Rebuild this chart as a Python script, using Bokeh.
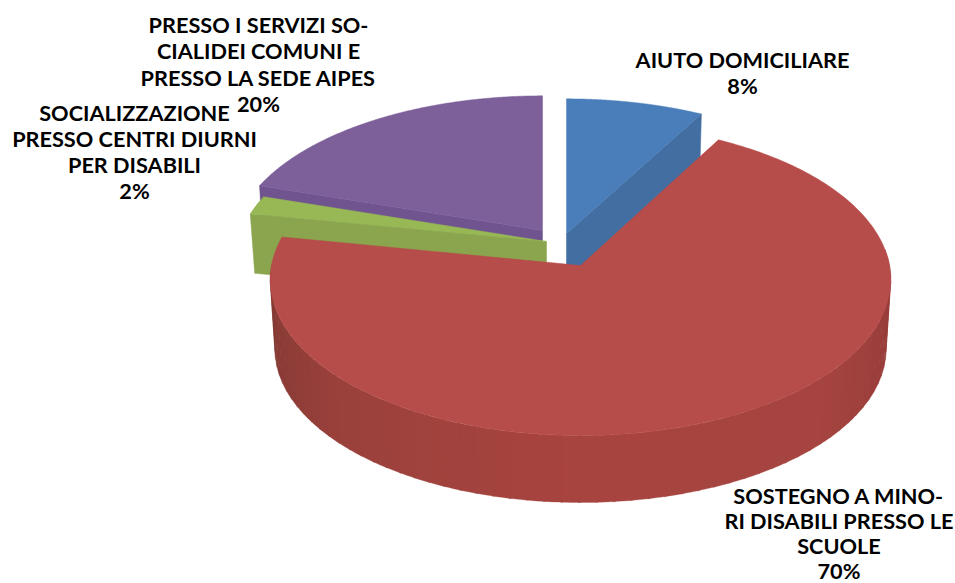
import numpy as np
from bokeh.plotting import figure
from bokeh.models import ColumnDataSource
from bokeh.core.properties import value
from bokeh.embed import file_html
from bokeh.resources import INLINE

# data
categories = ["AIUTO DOMICILIARE", "SOSTEGNO A MINORI DISABILI PRESSO LE SCUOLE",
              "SOCIALIZZAZIONE PRESSO CENTRI DIURNI PER DISABILI",
              "PRESSO I SERVIZI SOCIALIDEI COMUNI E PRESSO LA SEDE AIPES"]
shares = [8, 70, 2, 20]
label_lines = [["AIUTO DOMICILIARE", "8%"],
               ["SOSTEGNO A MINO-", "RI DISABILI PRESSO LE", "SCUOLE", "70%"],
               ["SOCIALIZZAZIONE", "PRESSO CENTRI DIURNI", "PER DISABILI", "2%"],
               ["PRESSO I SERVIZI SO-", "CIALIDEI COMUNI E", "PRESSO LA SEDE AIPES", "20%"]]

# layout and style
top_colors = ["#4A7EBB", "#B64D4A", "#98B855", "#7D5F9A"]
face_colors = ["#426EA2", None, "#8AA54E", "#6F5490"]
apex = [(566, 233), (580, 265), (546, 241), (542, 230)]
label_pos = [(742, 59, 26), (838.5, 495.5, 25), (134, 112, 26), (258, 24, 26.6)]
RX = [308.0, 309.0, 308.0, 308.0]
RY = [150.0, 154.7, 150.0, 150.0]
PERSP = [0.114, 0.09, 0.114, 0.114]
DEPTH = [60.0, 61.0, 50.0, 60.0]
BOTTOM_SCALE = 0.985
WALL_T = [95, 130, 180, 225, 262]
WALL_RGB = [(150, 60, 58), (165, 68, 64), (168, 68, 64), (155, 65, 60), (132, 58, 52)]

p = figure(width=955, height=583, x_range=(0, 955), y_range=(583, 0),
           output_backend="svg", toolbar_location=None, min_border=0,
           outline_line_color=None, background_fill_color="white",
           border_fill_color="white")
p.axis.visible = False
p.grid.visible = False


def drop(i):
    return (DEPTH[i] + (1 - BOTTOM_SCALE) * RY[i]) / (1 - PERSP[i])


def rim(i, t_deg, bottom=False):
    a = apex[i]
    t = np.radians(t_deg)
    s, c = np.sin(t), -np.cos(t)
    den = 1 - PERSP[i] * c
    k = BOTTOM_SCALE if bottom else 1.0
    x = a[0] + k * RX[i] * s / den
    y = a[1] + k * RY[i] * c / den
    if bottom:
        y = y + drop(i)
    return x, y


edges = 3.6 * np.concatenate([[0], np.cumsum(shares)])


def draw_face(i, t):
    a = apex[i]
    x0, y0 = rim(i, t)
    x1, y1 = rim(i, t, True)
    p.patch([a[0], x0, x1, a[0]], [a[1], y0, y1, a[1] + drop(i)],
            fill_color=face_colors[i], line_color=face_colors[i], line_width=0.5)


def draw_top(i):
    a = apex[i]
    ts = np.linspace(edges[i], edges[i + 1], 240)
    x, y = rim(i, ts)
    p.patch(np.r_[a[0], x], np.r_[a[1], y], fill_color=top_colors[i],
            line_color=top_colors[i], line_width=0.5)


# purple, blue, green, then the large red slice in front
draw_face(3, edges[3])
draw_top(3)
draw_face(0, edges[1])
draw_top(0)
draw_face(2, edges[2])
draw_top(2)

# red outer wall, in bands
step = 3.0
starts = np.arange(84, 268, step)
xs, ys, cols = [], [], []
for t0 in starts:
    ts = np.linspace(t0, t0 + step + 0.4, 5)
    xa, ya = rim(1, ts)
    xb, yb = rim(1, ts, True)
    xs.append(np.r_[xa, xb[::-1]].tolist())
    ys.append(np.r_[ya, yb[::-1]].tolist())
    rgb = [int(np.interp(t0, WALL_T, [v[j] for v in WALL_RGB])) for j in range(3)]
    cols.append("#%02x%02x%02x" % tuple(rgb))
p.patches(xs="xs", ys="ys", fill_color="cols", line_color="cols", line_width=0.3,
          source=ColumnDataSource(dict(xs=xs, ys=ys, cols=cols)))
draw_top(1)

# labels
tx, ty, tt = [], [], []
for lines, (cx, y0, lh) in zip(label_lines, label_pos):
    for n, line in enumerate(lines):
        tx.append(cx)
        ty.append(y0 + n * lh)
        tt.append(line)
p.text(x="x", y="y", text="t", source=ColumnDataSource(dict(x=tx, y=ty, t=tt)),
       text_font=value("Lato"), text_font_style="bold", text_font_size="21.7px",
       text_color="#000000", text_align="center", text_baseline="middle")

open("out.html", "w").write(file_html(p, INLINE))
